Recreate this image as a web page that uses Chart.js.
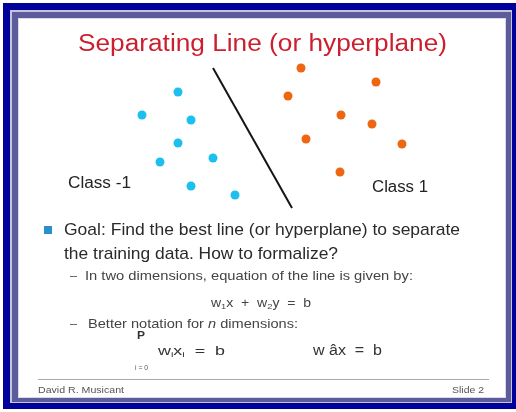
<!DOCTYPE html>
<html>
<head>
<meta charset="utf-8">
<script src="https://cdn.jsdelivr.net/npm/chart.js@4.4.1/dist/chart.umd.min.js"></script>
<style>
html,body{margin:0;padding:0;background:#fff;}
#wrap{width:516px;height:412px;position:relative;}
</style>
</head>
<body>
<div id="wrap"><canvas id="c" width="516" height="412"></canvas></div>
<script>
// ---- data (slide coordinates) ----
const classNegX = [178, 142, 191, 178, 160, 213, 191, 235];
const classNegY = [92, 115, 120, 143, 162, 158, 186, 195];
const classPosX = [301, 376, 288, 341, 372, 306, 402, 340];
const classPosY = [68, 82, 96, 115, 124, 139, 144, 172];
const lineX = [213, 292];
const lineY = [68, 208];

const titleText = "Separating Line (or hyperplane)";
const classLabels = ["Class -1", "Class 1"];
const bulletLines = ["Goal: Find the best line (or hyperplane) to separate", "the training data. How to formalize?"];
const subBullets = ["In two dimensions, equation of the line is given by:", "Better notation for ", "n", " dimensions:"];
const footerTexts = ["David R. Musicant", "Slide 2"];

const zip = (xs, ys) => xs.map((x, i) => ({x: x, y: ys[i]}));

const FONT = '"Liberation Sans", Arial, sans-serif';

function fitText(ctx, text, x, y, width, size, color, style) {
  ctx.save();
  ctx.font = (style || 'normal') + ' ' + size + 'px ' + FONT;
  ctx.fillStyle = color;
  ctx.textBaseline = 'alphabetic';
  ctx.textAlign = 'left';
  const w = ctx.measureText(text).width;
  ctx.translate(x, y);
  if (width) ctx.scale(width / w, 1);
  ctx.fillText(text, 0, 0);
  ctx.restore();
}

function richText(ctx, segs, x, y, width, color) {
  ctx.save();
  ctx.fillStyle = color;
  ctx.textBaseline = 'alphabetic';
  let total = 0;
  segs.forEach(s => {
    ctx.font = (s.italic ? 'italic ' : 'normal ') + s.size + 'px ' + FONT;
    s.w = ctx.measureText(s.t).width;
    total += s.w;
  });
  ctx.translate(x, y);
  if (width) ctx.scale(width / total, 1);
  let cx = 0;
  segs.forEach(s => {
    ctx.font = (s.italic ? 'italic ' : 'normal ') + s.size + 'px ' + FONT;
    ctx.fillText(s.t, cx, s.dy || 0);
    cx += s.w;
  });
  ctx.restore();
}

const slidePlugin = {
  id: 'slide',
  beforeDraw(chart) {
    const ctx = chart.ctx;
    ctx.save();
    ctx.fillStyle = '#ffffff';
    ctx.fillRect(0, 0, 516, 412);
    ctx.fillStyle = '#00009a';
    ctx.fillRect(3, 3, 513, 406);
    ctx.fillStyle = '#c4c4dc';
    ctx.fillRect(10, 10, 502, 393);
    ctx.fillStyle = '#5c5c9a';
    ctx.fillRect(12, 12, 499, 390);
    ctx.fillStyle = '#d8d8e8';
    ctx.fillRect(18, 18, 488, 380);
    ctx.fillStyle = '#ffffff';
    ctx.fillRect(19, 19, 486, 378);
    ctx.restore();
  },
  afterDraw(chart) {
    const ctx = chart.ctx;
    // title
    fitText(ctx, titleText, 78, 51, 369, 23, '#cc1f2e');
    // class labels
    fitText(ctx, classLabels[0], 68, 188, 63, 16, '#222');
    fitText(ctx, classLabels[1], 372, 192, 56, 16, '#222');
    // bullet
    ctx.save();
    ctx.fillStyle = '#2b8fcf';
    ctx.fillRect(44, 226, 8, 8);
    ctx.restore();
    fitText(ctx, bulletLines[0], 64, 235, 396, 17, '#2a2a2a');
    fitText(ctx, bulletLines[1], 64, 259, 274, 17, '#2a2a2a');
    // sub bullets
    fitText(ctx, '\u2013', 70, 280, 7, 13, '#555');
    fitText(ctx, subBullets[0], 85, 280, 328, 13, '#444');
    richText(ctx, [
      {t: 'w', size: 12}, {t: '1', size: 8, dy: 2}, {t: 'x  +  w', size: 12},
      {t: '2', size: 8, dy: 2}, {t: 'y  =  b', size: 12}
    ], 211, 307, 100, '#444');
    fitText(ctx, '\u2013', 70, 328, 7, 13, '#555');
    richText(ctx, [
      {t: subBullets[1], size: 13}, {t: subBullets[2], size: 13, italic: true}, {t: subBullets[3], size: 13}
    ], 88, 328, 210, '#444');
    // formulas
    fitText(ctx, 'P', 137, 339, 8, 10, '#333', 'bold');
    richText(ctx, [
      {t: 'w', size: 13}, {t: 'i', size: 8, dy: 2}, {t: 'x', size: 13},
      {t: 'i', size: 8, dy: 2}, {t: '  =  b', size: 13}
    ], 158, 355, 67, '#333');
    fitText(ctx, 'i = 0', 135, 370, 13, 8, '#555');
    fitText(ctx, 'w \u00e2x  =  b', 313, 355, 69, 14, '#333');
    // footer
    ctx.save();
    ctx.strokeStyle = '#a8a8a8';
    ctx.lineWidth = 1;
    ctx.beginPath();
    ctx.moveTo(38, 379.5);
    ctx.lineTo(489, 379.5);
    ctx.stroke();
    ctx.restore();
    fitText(ctx, footerTexts[0], 38, 393, 86, 9, '#555');
    fitText(ctx, footerTexts[1], 452, 393, 32, 9, '#555');
  }
};

new Chart(document.getElementById('c'), {
  type: 'scatter',
  data: {
    datasets: [
      {
        label: classLabels[0],
        data: zip(classNegX, classNegY),
        backgroundColor: '#1dbfee',
        borderColor: '#1dbfee',
        pointRadius: 4.5,
        borderWidth: 0
      },
      {
        label: classLabels[1],
        data: zip(classPosX, classPosY),
        backgroundColor: '#ee6512',
        borderColor: '#ee6512',
        pointRadius: 4.5,
        borderWidth: 0
      },
      {
        type: 'line',
        label: 'Separating line',
        data: zip(lineX, lineY),
        borderColor: '#151515',
        borderWidth: 2,
        pointRadius: 0,
        fill: false,
        showLine: true
      }
    ]
  },
  options: {
    responsive: false,
    animation: false,
    devicePixelRatio: 1,
    layout: {padding: 0, autoPadding: false},
    plugins: {legend: {display: false}, tooltip: {enabled: false}, title: {display: false}},
    scales: {
      x: {type: 'linear', min: 0, max: 516, display: false},
      y: {type: 'linear', min: 0, max: 412, reverse: true, display: false}
    }
  },
  plugins: [slidePlugin]
});
</script>
</body>
</html>
